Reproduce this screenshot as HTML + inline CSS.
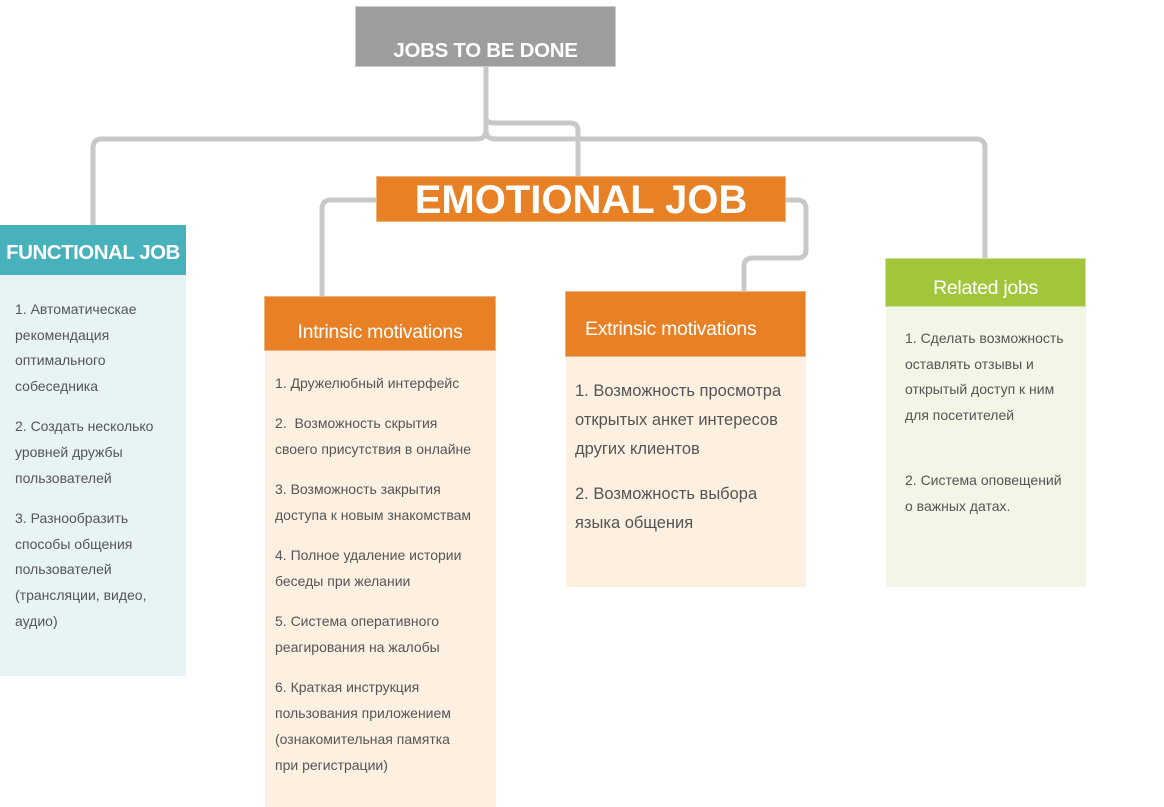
<!DOCTYPE html>
<html><head><meta charset="utf-8"><style>
body{margin:0;width:1164px;height:807px;background:#fff;position:relative;font-family:"Liberation Sans",sans-serif;overflow:hidden}
.b{position:absolute;box-sizing:border-box}
.h{position:absolute;box-sizing:border-box;color:#fff}
.t{position:absolute;color:#555;}
.t p{margin:0}
</style></head><body>
<svg width="1164" height="807" style="position:absolute;left:0;top:0" fill="none" stroke="#c8c8c8" stroke-width="5">
<path d="M486 66 V130 Q486 139 495 139 H976 Q985 139 985 148 V258"/>
<path d="M486 130 Q486 139 477 139 H102 Q93 139 93 148 V225"/>
<path d="M486 118 Q486 123 495 123 H570 Q578 123 578 131 V176"/>
<path d="M376 200 H331 Q322 200 322 209 V296"/>
<path d="M785 200 H797 Q806 200 806 209 V250 Q806 258 797 258 H753 Q744 258 744 266 V291"/>
</svg>
<div class="h" style="left:355px;top:6px;width:261px;height:61px;background:#9d9d9b;border:1px solid #ccc;font-weight:bold;font-size:20.5px;text-align:center;padding-top:32px;letter-spacing:-0.3px">JOBS TO BE DONE</div>
<div class="h" style="left:376px;top:176px;width:410px;height:46px;background:#e88126;border:1px solid #f3b27a;font-weight:bold;font-size:40px;text-align:center;line-height:46px">EMOTIONAL JOB</div>

<div class="b" style="left:0;top:275px;width:186px;height:401px;background:#e8f3f5"></div>
<div class="h" style="left:0;top:225px;width:186px;height:50px;background:#48b2bc;font-weight:bold;font-size:20.5px;text-align:center;line-height:56px;letter-spacing:-0.5px">FUNCTIONAL JOB</div>
<div class="t" style="left:15px;top:297px;width:160px;font-size:14px;line-height:25.6px">
<p>1. Автоматическае рекомендация оптимального собеседника</p><p style="margin-top:15px">2. Создать несколько уровней дружбы пользователей</p><p style="margin-top:15px">3. Разнообразить способы общения пользователей (трансляции, видео, аудио)</p></div>

<div class="b" style="left:265px;top:350px;width:231px;height:457px;background:#fdf0e1"></div>
<div class="h" style="left:264px;top:296px;width:232px;height:55px;background:#e88126;border:1px solid #f3b27a;font-size:19.5px;text-align:center;padding-top:24px;letter-spacing:-0.3px">Intrinsic motivations</div>
<div class="t" style="left:275px;top:370px;width:198px;font-size:14px;line-height:26px">
<p>1. Дружелюбный интерфейс</p><p style="margin-top:14px">2.&nbsp; Возможность скрытия своего присутствия в онлайне</p><p style="margin-top:14px">3. Возможность закрытия доступа к новым знакомствам</p><p style="margin-top:14px">4. Полное удаление истории беседы при желании</p><p style="margin-top:14px">5. Система оперативного реагирования на жалобы</p><p style="margin-top:14px">6. Краткая инструкция пользования приложением (ознакомительная памятка при регистрации)</p></div>

<div class="b" style="left:566px;top:356px;width:240px;height:231px;background:#fdf0e1"></div>
<div class="h" style="left:565px;top:291px;width:241px;height:66px;background:#e88126;border:1px solid #f3b27a;font-size:19.5px;padding:26px 0 0 19px;letter-spacing:-0.3px">Extrinsic motivations</div>
<div class="t" style="left:575px;top:377px;width:220px;font-size:16.5px;line-height:29px">
<p>1. Возможность просмотра открытых анкет интересов других клиентов</p><p style="margin-top:16px">2. Возможность выбора языка общения</p></div>

<div class="b" style="left:886px;top:306px;width:200px;height:281px;background:#f2f6e6"></div>
<div class="h" style="left:885px;top:258px;width:201px;height:49px;background:#a2c63b;border:1px solid #cde39a;font-size:19.5px;text-align:center;padding-top:18px;letter-spacing:-0.3px">Related jobs</div>
<div class="t" style="left:905px;top:326px;width:166px;font-size:14px;line-height:25.6px">
<p>1. Сделать возможность оставлять отзывы и открытый доступ к ним для посетителей</p><p style="margin-top:40px">2. Система оповещений о важных датах.</p></div>
</body></html>
